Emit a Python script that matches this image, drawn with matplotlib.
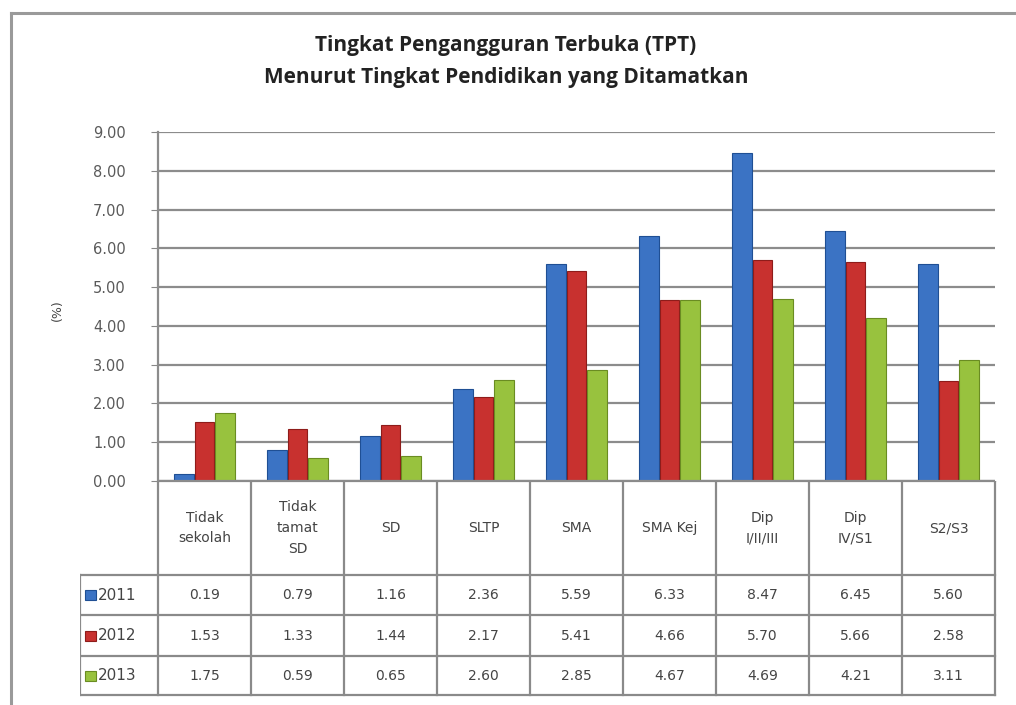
import matplotlib
matplotlib.use('Agg')
import matplotlib.pyplot as plt
from matplotlib.patches import Rectangle
from matplotlib.lines import Line2D

categories = ['Tidak\nsekolah', 'Tidak\ntamat\nSD', 'SD', 'SLTP', 'SMA', 'SMA Kej',
              'Dip\nI/II/III', 'Dip\nIV/S1', 'S2/S3']
years = ['2011', '2012', '2013']
tpt_2011 = [0.19, 0.79, 1.16, 2.36, 5.59, 6.33, 8.47, 6.45, 5.60]
tpt_2012 = [1.53, 1.33, 1.44, 2.17, 5.41, 4.66, 5.70, 5.66, 2.58]
tpt_2013 = [1.75, 0.59, 0.65, 2.60, 2.85, 4.67, 4.69, 4.21, 3.11]
yticks = [0, 1, 2, 3, 4, 5, 6, 7, 8, 9]

series = [tpt_2011, tpt_2012, tpt_2013]
colors = ['#3b73c4', '#c8312f', '#98c23e']
edges = ['#1f4f94', '#8e1c1a', '#6a8c22']

W, H = 1016, 705
fig = plt.figure(figsize=(W / 100, H / 100), dpi=100)
fig.patch.set_facecolor('white')

def px(x0, y0, x1, y1):
    # pixel box (top-left origin) -> figure fraction rect
    return [x0 / W, 1 - y1 / H, (x1 - x0) / W, (y1 - y0) / H]

# outer frame lines
fig.add_artist(Line2D([11 / W, 11 / W], [0, 1 - 13 / H], transform=fig.transFigure,
                      color='#9a9a9a', lw=2.2))
fig.add_artist(Line2D([11 / W, 1], [1 - 13 / H, 1 - 13 / H], transform=fig.transFigure,
                      color='#9a9a9a', lw=2.2))

ax_l, ax_r, ax_t, ax_b = 158, 995, 132, 481
ax = fig.add_axes(px(ax_l, ax_t, ax_r, ax_b))
n = len(categories)
bw = 0.22
for j, vals in enumerate(series):
    xs = [i + (j - 1) * bw for i in range(n)]
    ax.bar(xs, vals, width=bw * 0.96, color=colors[j], edgecolor=edges[j],
           linewidth=0.8, zorder=3)

ax.set_xlim(-0.5, n - 0.5)
ax.set_ylim(0, 9)
ax.set_yticks(yticks)
ax.set_yticklabels(['%.2f' % v for v in yticks], color='#5a5a5a', fontsize=10.5,
                   family='DejaVu Sans')
ax.tick_params(axis='y', length=5, color='#888888', pad=18)
ax.set_xticks([])
ax.yaxis.grid(True, color='#8c8c8c', lw=1.6, zorder=0)
for s in ['top', 'right', 'bottom']:
    ax.spines[s].set_visible(False)
ax.spines['left'].set_color('#8c8c8c')
ax.spines['left'].set_linewidth(1.6)
ax.axhline(0, color='#8c8c8c', lw=1.6, zorder=4)

fig.text(57 / W, 1 - 310 / H, '(%)', rotation=90, ha='center', va='center',
         fontsize=9, color='#444444')

fig.text(506 / W, 1 - 45 / H, 'Tingkat Pengangguran Terbuka (TPT)', ha='center',
         va='center', fontsize=15, fontweight='bold', family='Open Sans', color='#222222')
fig.text(506 / W, 1 - 78 / H, 'Menurut Tingkat Pendidikan yang Ditamatkan', ha='center',
         va='center', fontsize=15, fontweight='bold', family='Open Sans', color='#222222')

# data table below the plot, sharing the category scale
unit = (ax_r - ax_l) / n
tab_l = 80
tab = fig.add_axes(px(tab_l, ax_b, ax_r + 2, 697))
tab.set_xlim(-0.5 - (ax_l - tab_l) / unit, n - 0.5 + 2 / unit)
tab.set_ylim(216, 0)
tab.axis('off')
row_y = [0, 94, 134, 175, 214]
lc = '#8a8a8a'
x_left = -0.5 - (ax_l - tab_l) / unit
# vertical lines
for i in range(n + 1):
    tab.plot([i - 0.5, i - 0.5], [0, row_y[-1]], color=lc, lw=1.6)
tab.plot([x_left, x_left], [row_y[1], row_y[-1]], color=lc, lw=1.6)
# horizontal lines
for k, y in enumerate(row_y):
    x0 = -0.5 if k == 0 else x_left
    tab.plot([x0, n - 0.5], [y, y], color=lc, lw=1.6)

for i, c in enumerate(categories):
    tab.text(i, row_y[1] / 2, c, ha='center', va='center', fontsize=10,
             color='#444444', linespacing=1.6)
for j, vals in enumerate(series):
    yc = (row_y[j + 1] + row_y[j + 2]) / 2
    tab.add_patch(Rectangle((x_left + 0.05, yc - 5), 0.12, 10, facecolor=colors[j],
                            edgecolor=edges[j], lw=0.8))
    tab.text(x_left + 0.19, yc, years[j], ha='left', va='center', fontsize=11,
             color='#444444', family='DejaVu Sans')
    for i, v in enumerate(vals):
        tab.text(i, yc, '%.2f' % v, ha='center', va='center', fontsize=10,
                 color='#444444', family='DejaVu Sans')

fig.savefig('out.png', dpi=100, facecolor='white')
